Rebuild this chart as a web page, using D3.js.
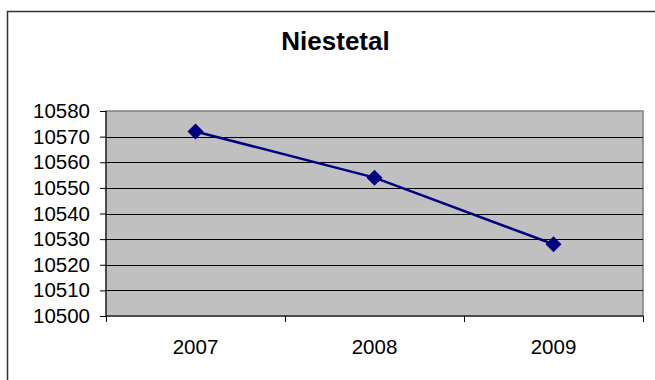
<!DOCTYPE html>
<html>
<head>
<meta charset="utf-8">
<script src="https://cdn.jsdelivr.net/npm/d3@7"></script>
<style>
  html, body { margin: 0; padding: 0; background: #fff; }
  svg { display: block; font-family: "Liberation Sans", Arial, sans-serif; }
</style>
</head>
<body>
<svg id="chart" width="655" height="380"></svg>
<script>
// Population of Niestetal by year
const title = "Niestetal";
const years = ["2007", "2008", "2009"];
const population = [10572, 10554, 10528];
const yTicks = [10500, 10510, 10520, 10530, 10540, 10550, 10560, 10570, 10580];

const svg = d3.select("#chart");
const plot = { left: 106, right: 643, top: 111, bottom: 316 };

// Outer frame (right and bottom edges run past the canvas)
svg.append("rect")
  .attr("x", 7.5).attr("y", 11.5)
  .attr("width", 700).attr("height", 420)
  .attr("fill", "#fff")
  .attr("stroke", "#333").attr("stroke-width", 1.5);

svg.append("text")
  .attr("x", 335.5).attr("y", 50)
  .attr("text-anchor", "middle")
  .attr("font-size", 26).attr("font-weight", "bold")
  .text(title);

const x = d3.scaleBand().domain(years).range([plot.left, plot.right]).paddingInner(0).paddingOuter(0);
const y = d3.scaleLinear().domain([10500, 10580]).range([plot.bottom, plot.top]);

// Plot background
svg.append("rect")
  .attr("x", plot.left).attr("y", plot.top)
  .attr("width", plot.right - plot.left).attr("height", plot.bottom - plot.top)
  .attr("fill", "#c0c0c0")
  .attr("stroke", "#808080").attr("stroke-width", 1.5);

// Horizontal gridlines
svg.append("g")
  .selectAll("line")
  .data(yTicks.filter(d => d !== 10500 && d !== 10580))
  .join("line")
  .attr("x1", plot.left).attr("x2", plot.right)
  .attr("y1", d => Math.round(y(d)) + 0.5).attr("y2", d => Math.round(y(d)) + 0.5)
  .attr("stroke", "#000").attr("stroke-width", 1);

// Y axis
const yAxis = svg.append("g")
  .attr("transform", `translate(${plot.left},0)`)
  .call(d3.axisLeft(y).tickValues(yTicks).tickSize(6).tickPadding(10).tickFormat(d3.format("d")));
yAxis.selectAll("text").attr("font-size", 20.5).attr("fill", "#000").attr("font-family", "Liberation Sans, Arial, sans-serif");
yAxis.selectAll("line, path").attr("stroke", "#000");
yAxis.select(".domain").attr("d", `M0,${plot.top}V${plot.bottom}`);

// X axis: tick marks sit at category boundaries
const xAxis = svg.append("g")
  .attr("transform", `translate(0,${plot.bottom})`);
xAxis.append("line")
  .attr("x1", plot.left).attr("x2", plot.right)
  .attr("stroke", "#000");
const bounds = years.map(d => x(d)).concat([x(years[years.length - 1]) + x.bandwidth()]);
xAxis.selectAll("line.tick")
  .data(bounds)
  .join("line")
  .attr("class", "tick")
  .attr("x1", d => Math.round(d) + 0.5).attr("x2", d => Math.round(d) + 0.5)
  .attr("y1", 0).attr("y2", 6)
  .attr("stroke", "#000");
xAxis.selectAll("text")
  .data(years)
  .join("text")
  .attr("x", d => x(d) + x.bandwidth() / 2)
  .attr("y", 38)
  .attr("text-anchor", "middle")
  .attr("font-size", 20.5)
  .text(d => d);

// Series line
const pts = years.map((d, i) => [x(d) + x.bandwidth() / 2, y(population[i])]);
svg.append("path")
  .attr("d", d3.line()(pts))
  .attr("fill", "none")
  .attr("stroke", "#000080").attr("stroke-width", 2.5);

// Diamond markers
svg.append("g")
  .selectAll("path")
  .data(pts)
  .join("path")
  .attr("transform", d => `translate(${d[0]},${d[1]})`)
  .attr("d", "M0,-8L8,0L0,8L-8,0Z")
  .attr("fill", "#000080");
</script>
</body>
</html>
